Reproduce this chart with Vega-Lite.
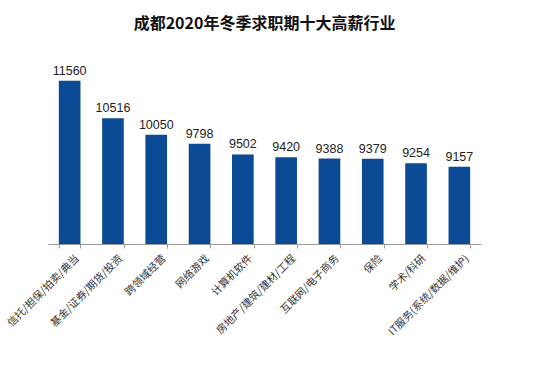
{
  "$schema": "https://vega.github.io/schema/vega-lite/v6.json",
  "autosize": "none",
  "width": 433,
  "height": 179,
  "padding": {"left": 48, "top": 65, "right": 69, "bottom": 139},
  "background": "white",
  "title": {
    "text": "成都2020年冬季求职期十大高薪行业",
    "font": "Noto Sans CJK SC",
    "fontSize": 16,
    "fontWeight": "bold",
    "color": "#111111",
    "offset": 33,
    "anchor": "middle"
  },
  "config": {"view": {"stroke": null}},
  "data": {
    "values": [
      {"industry": "信托/担保/拍卖/典当", "salary": 11560},
      {"industry": "基金/证券/期货/投资", "salary": 10516},
      {"industry": "跨领域经营", "salary": 10050},
      {"industry": "网络游戏", "salary": 9798},
      {"industry": "计算机软件", "salary": 9502},
      {"industry": "房地产/建筑/建材/工程", "salary": 9420},
      {"industry": "互联网/电子商务", "salary": 9388},
      {"industry": "保险", "salary": 9379},
      {"industry": "学术/科研", "salary": 9254},
      {"industry": "IT服务(系统/数据/维护)", "salary": 9157}
    ]
  },
  "encoding": {
    "x": {
      "field": "industry",
      "type": "nominal",
      "sort": null,
      "scale": {"paddingInner": 0.5, "paddingOuter": 0.25},
      "axis": {
        "title": null,
        "labelAngle": -45,
        "labelFont": "Noto Sans CJK SC",
        "labelFontSize": 10.5,
        "labelColor": "#333333",
        "labelPadding": 5,
        "labelOffset": 4,
        "tickBand": "extent",
        "tickColor": "#999999",
        "tickSize": 4,
        "domainColor": "#999999",
        "labelLimit": 200
      }
    },
    "y": {
      "field": "salary",
      "type": "quantitative",
      "scale": {"domain": [7000, 12000], "zero": false},
      "axis": null
    }
  },
  "layer": [
    {
      "mark": {"type": "bar", "color": "#0b4a94"},
      "encoding": {"y2": {"datum": 7000}}
    },
    {
      "mark": {
        "type": "text",
        "dy": -10,
        "font": "Liberation Sans",
        "fontSize": 12.5,
        "color": "#222222"
      },
      "encoding": {"text": {"field": "salary", "type": "quantitative", "format": "d"}}
    }
  ]
}
